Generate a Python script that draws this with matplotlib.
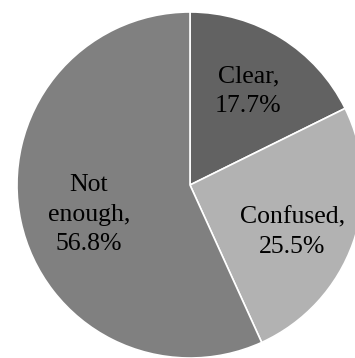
import matplotlib
matplotlib.use("Agg")
import matplotlib.pyplot as plt

# share of answers per category
names = ["Clear", "Confused", "Not enough"]
shares = [17.7, 25.5, 56.8]
colors = ["#626262", "#b2b2b2", "#808080"]

fig = plt.figure(figsize=(3.55, 3.58), dpi=100)
ax = fig.add_axes([17 / 355, 0, 346 / 355, 346 / 358])

labels = [f"{n},\n{v}%" if n != "Not enough" else "Not\nenough,\n%.1f%%" % v
          for n, v in zip(names, shares)]
wedges, texts = ax.pie(shares, labels=labels, colors=colors, startangle=90,
                       counterclock=False, labeldistance=0.64,
                       wedgeprops=dict(edgecolor="white", linewidth=1.2),
                       textprops=dict(ha="center", va="center", fontsize=18.5,
                                      family="Liberation Serif", color="black",
                                      linespacing=1.45))
# nudge the labels a little inside their wedges
nudges = [(0.0, 0.0), (-0.01, -0.06), (0.04, -0.035)]
for t, (dx, dy) in zip(texts, nudges):
    x, y = t.get_position()
    t.set_position((x + dx, y + dy))
ax.set_xlim(-1, 1)
ax.set_ylim(-1, 1)

fig.savefig("out.png", dpi=100)
